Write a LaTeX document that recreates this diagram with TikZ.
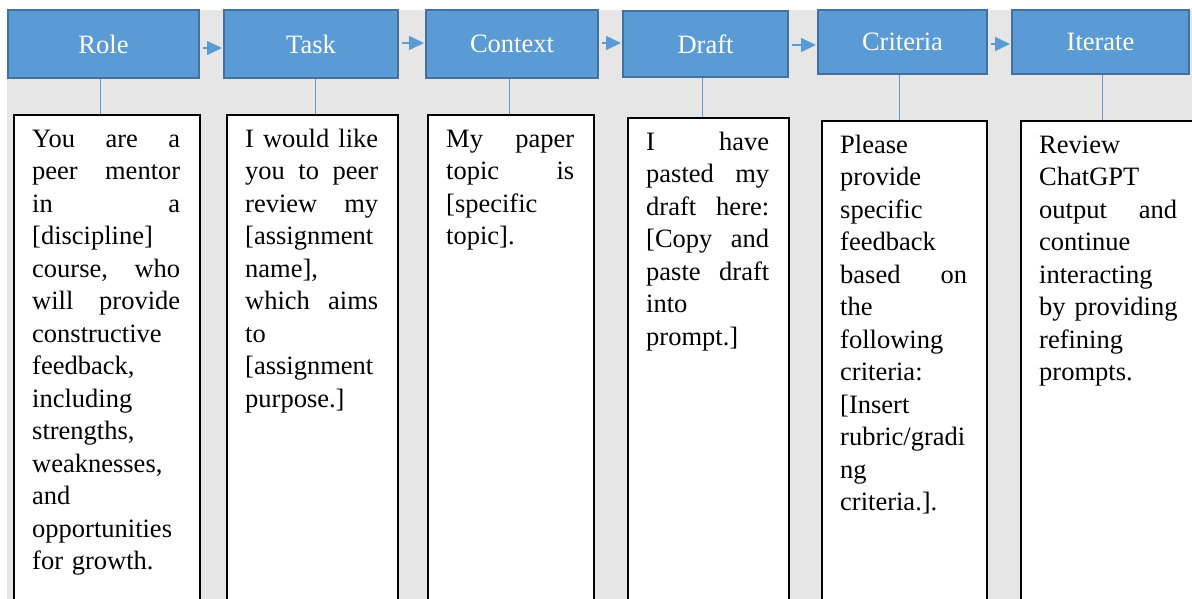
\documentclass[tikz,border=0pt]{standalone}
\usepackage{fontspec}
\setmainfont{Liberation Serif}
\newfontfamily\tnr{Liberation Serif}
\usetikzlibrary{arrows.meta,calc}
\definecolor{bgray}{RGB}{231,230,230}
\definecolor{sblue}{RGB}{91,155,213}
\definecolor{dblue}{RGB}{65,113,156}
\newcommand{\fstrut}{\rule{0pt}{20pt}}
\begin{document}
\begin{tikzpicture}[x=1pt,y=-1pt,
  head/.style={rectangle, draw=dblue, fill=sblue, line width=2pt, text=white,
    font=\tnr\fontsize{26.5}{32.5}\selectfont, inner sep=0pt},
  tbox/.style={rectangle, draw=black, fill=white, line width=1.8pt, inner sep=0pt,
    anchor=north west, minimum height=540pt},
  body/.style={anchor=north west, inner sep=0pt, align=left,
    font=\tnr\fontsize{26.5}{32.5}\selectfont},
  flow/.style={draw=sblue, line width=1.5pt, -{Triangle[length=15pt,width=14pt]},
    shorten <=3pt, shorten >=1pt},
  conn/.style={draw=sblue, line width=1pt}]
\useasboundingbox (0,0) rectangle (1192,598);
\clip (0,0) rectangle (1192,598);
\fill[bgray] (7,10) rectangle (1210,620);

% heading boxes
\node[head, minimum width=191pt, minimum height=68pt] (role) at (103.5,44) {Role};
\node[head, minimum width=174pt, minimum height=68pt] (task) at (311,44) {Task};
\node[head, minimum width=172pt, minimum height=68pt] (context) at (512,44) {Context};
\node[head, minimum width=165pt, minimum height=66pt] (draft) at (705.5,44) {Draft};
\node[head, minimum width=169pt, minimum height=64pt] (criteria) at (902.5,42) {Criteria};
\node[head, minimum width=177pt, minimum height=64pt] (iterate) at (1100.5,42) {Iterate};

% text boxes
\node[tbox, minimum width=186pt] (rolet) at (13,114) {};
\node[tbox, minimum width=171pt] (taskt) at (226,114) {};
\node[tbox, minimum width=166pt] (contextt) at (427,114) {};
\node[tbox, minimum width=161pt] (draftt) at (627,117) {};
\node[tbox, minimum width=165pt] (criteriat) at (821,120) {};
\node[tbox, minimum width=200pt] (iteratet) at (1020,120) {};

% texts
\node[body, text width=148pt] (roletx) at ([xshift=19pt,yshift=-13pt]rolet.north west)
 {\fstrut You \hfill are \hfill a\\ peer \hfill mentor\\ in \hfill a\\ {[}discipline]\\
  course, \hfill who\\ will \hfill provide\\ constructive\\ feedback,\\ including\\
  strengths,\\ weaknesses,\\ and\\ opportunities\\ for growth.};
\node[body, text width=133pt] (tasktx) at ([xshift=19pt,yshift=-13pt]taskt.north west)
 {\fstrut I \hfill would \hfill like\\ you \hfill to \hfill peer\\ review \hfill my\\
  {[}assignment\\ name],\\ which \hfill aims\\ to\\ {[}assignment\\ purpose.]};
\node[body, text width=128pt] (contexttx) at ([xshift=19pt,yshift=-13pt]contextt.north west)
 {\fstrut My \hfill paper\\ topic \hfill is\\ {[}specific\\ topic].};
\node[body, text width=123pt] (drafttx) at ([xshift=19pt,yshift=-13pt]draftt.north west)
 {\fstrut I \hfill have\\ pasted \hfill my\\ draft \hfill here:\\ {[}Copy \hfill and\\
  paste \hfill draft\\ into\\ prompt.]};
\node[body, text width=127pt] (criteriatx) at ([xshift=19pt,yshift=-13pt]criteriat.north west)
 {\fstrut Please\\ provide\\ specific\\ feedback\\ based \hfill on\\ the\\ following\\
  criteria:\\ {[}Insert\\ rubric/gradi\\ ng\\ criteria.].};
\node[body, text width=138pt] (iteratetx) at ([xshift=19pt,yshift=-13pt]iteratet.north west)
 {\fstrut Review\\ ChatGPT\\ output \hfill and\\ continue\\ interacting\\
  \mbox{by \hfill providing}\\ refining\\ prompts.};

% flow arrows
\draw[flow] ([yshift=-4pt]role.east) -- ([yshift=-4pt]task.west);
\draw[flow] ([yshift=1pt]task.east) -- ([yshift=1pt]context.west);
\draw[flow] ([yshift=1pt]context.east) -- ([yshift=1pt]draft.west);
\draw[flow] ([yshift=-1pt]draft.east) -- ([yshift=-3pt]criteria.west);
\draw[flow] ([yshift=-2pt]criteria.east) -- ([yshift=-2pt]iterate.west);

% connectors
\draw[conn] ([xshift=-3.5pt]role.south) -- ([xshift=-3.5pt]role.south |- rolet.north);
\draw[conn] ([xshift=4pt]task.south) -- ([xshift=4pt]task.south |- taskt.north);
\draw[conn] ([xshift=-2.7pt]context.south) -- ([xshift=-2.7pt]context.south |- contextt.north);
\draw[conn] ([xshift=-3.5pt]draft.south) -- ([xshift=-3.5pt]draft.south |- draftt.north);
\draw[conn] ([xshift=-3.5pt]criteria.south) -- ([xshift=-3.5pt]criteria.south |- criteriat.north);
\draw[conn] ([xshift=1.5pt]iterate.south) -- ([xshift=1.5pt]iterate.south |- iteratet.north);
\end{tikzpicture}
\end{document}
